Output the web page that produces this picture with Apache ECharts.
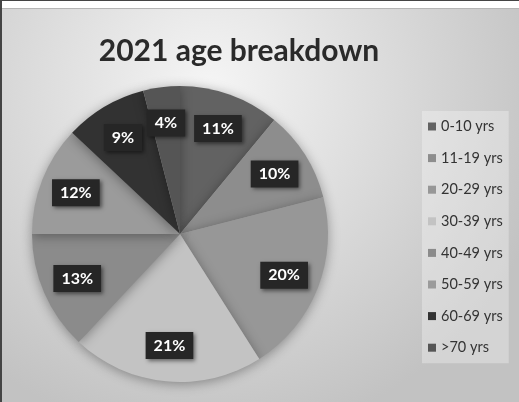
<!DOCTYPE html>
<html>
<head>
    <meta charset="utf-8">
    <script src="https://cdn.jsdelivr.net/npm/echarts@6/dist/echarts.min.js"></script>
    <style>
        body { margin: 0; background: #fff; }
        .frame {
            position: absolute; left: 0; top: 0; width: 519px; height: 402px;
            box-sizing: border-box; border-top: 1px solid #444; border-left: 2px solid #444;
            background: #fff;
        }
        #main {
            position: absolute; left: 0; top: 7px; width: 517px; height: 394px;
            border-top: 1px solid #b5b5b5; box-sizing: border-box;
        }
    </style>
</head>

<body>
    <div class="frame"><div id="main"></div></div>

    <script type="text/javascript">
        var myChart = echarts.init(document.getElementById('main'));

        var ageGroups = ['0-10 yrs', '11-19 yrs', '20-29 yrs', '30-39 yrs', '40-49 yrs', '50-59 yrs', '60-69 yrs', '>70 yrs'];
        var shares = [11, 10, 20, 21, 13, 12, 9, 4];
        var colors = ['#626262', '#8d8d8d', '#979797', '#c3c3c3', '#8b8b8b', '#9b9b9b', '#323232', '#555555'];

        var pieData = [];
        for (var i = 0; i < ageGroups.length; i++) {
            pieData.push({ name: ageGroups[i], value: shares[i], itemStyle: { color: colors[i] } });
        }

        myChart.setOption({
            backgroundColor: {
                type: 'radial', x: 0.4, y: 0.2, r: 0.9,
                colorStops: [
                    { offset: 0, color: '#f5f5f5' },
                    { offset: 1, color: '#c2c2c2' }
                ]
            },
            title: {
                text: '2021 age breakdown',
                left: 232,
                top: 22,
                textAlign: 'center',
                textStyle: { fontFamily: 'Lato', fontWeight: 'bold', fontSize: 30, color: '#2a2a2a' }
            },
            legend: {
                orient: 'vertical',
                left: 420,
                top: 102,
                data: ageGroups,
                icon: 'rect',
                itemWidth: 8,
                itemHeight: 8,
                itemGap: 16.6,
                padding: [8, 6, 8, 6],
                backgroundColor: 'rgba(255,255,255,0.3)',
                textStyle: { fontFamily: 'Lato', fontSize: 14.5, color: '#333' }
            },
            series: [
                {
                    type: 'pie',
                    center: [178, 225],
                    radius: [0, 148],
                    startAngle: 90,
                    clockwise: true,
                    label: { show: false },
                    labelLine: { show: false },
                    itemStyle: { shadowBlur: 12, shadowColor: 'rgba(0,0,0,0.35)', shadowOffsetY: 2 },
                    emphasis: { scale: false },
                    data: pieData
                },
                {
                    // label-only ring so the boxes sit further out than 'inside' would put them
                    type: 'pie',
                    center: [178, 225],
                    radius: [70, 148],
                    startAngle: 90,
                    clockwise: true,
                    silent: true,
                    itemStyle: { color: 'rgba(0,0,0,0)' },
                    label: {
                        show: true,
                        position: 'inside',
                        formatter: '{c}%',
                        fontFamily: 'Lato',
                        fontWeight: 'bold',
                        fontSize: 16,
                        color: '#fff',
                        backgroundColor: '#262626',
                        padding: [6, 8, 5, 8],
                        shadowColor: 'rgba(0,0,0,0.5)',
                        shadowBlur: 4,
                        shadowOffsetX: 2,
                        shadowOffsetY: 2
                    },
                    labelLine: { show: false },
                    data: shares.map(function (v, i) { return { name: ageGroups[i], value: v }; })
                }
            ]
        });
    </script>
</body>

</html>
